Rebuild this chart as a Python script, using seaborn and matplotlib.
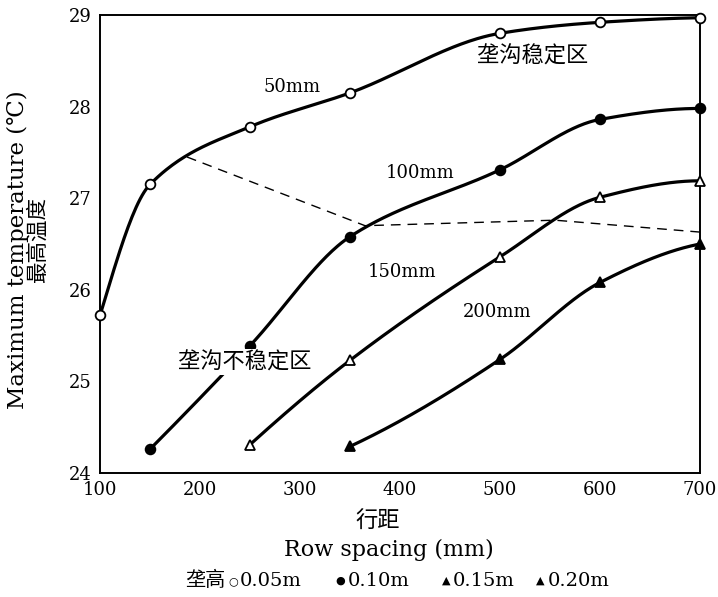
import numpy as np
import pandas as pd
import matplotlib
matplotlib.use("Agg")
import matplotlib.pyplot as plt
import seaborn as sns

# ---- data ----
x50 = [100, 150, 250, 350, 500, 600, 700]
y50 = [25.72, 27.15, 27.78, 28.15, 28.80, 28.92, 28.97]
x100 = [150, 250, 350, 500, 600, 700]
y100 = [24.26, 25.39, 26.58, 27.31, 27.86, 27.98]
x150 = [250, 350, 500, 600, 700]
y150 = [24.31, 25.23, 26.36, 27.01, 27.19]
x200 = [350, 500, 600, 700]
y200 = [24.29, 25.24, 26.08, 26.50]
# boundary (dashed) between stable / unstable ridge-furrow zones
xb = [187, 365, 460, 555, 700]
yb = [27.45, 26.70, 26.73, 26.76, 26.63]
xticks = [100, 200, 300, 400, 500, 600, 700]
yticks = [24, 25, 26, 27, 28, 29]
legend_title = "垄高"
legend_symbols = ["○", "●", "▲", "▲"]
legend_labels = ["0.05m", "0.10m", "0.15m", "0.20m"]


def pchip(x, y, xs):
    x = np.asarray(x, float); y = np.asarray(y, float)
    h = np.diff(x); d = np.diff(y) / h
    n = len(x)
    m = np.zeros(n)
    for k in range(1, n - 1):
        if d[k - 1] * d[k] > 0:
            w1 = 2 * h[k] + h[k - 1]; w2 = h[k] + 2 * h[k - 1]
            m[k] = (w1 + w2) / (w1 / d[k - 1] + w2 / d[k])
    def endslope(h0, h1, d0, d1):
        s = ((2 * h0 + h1) * d0 - h0 * d1) / (h0 + h1)
        if np.sign(s) != np.sign(d0):
            s = 0
        elif np.sign(d0) != np.sign(d1) and abs(s) > abs(3 * d0):
            s = 3 * d0
        return s
    if n > 2:
        m[0] = endslope(h[0], h[1], d[0], d[1])
        m[-1] = endslope(h[-1], h[-2], d[-1], d[-2])
    else:
        m[:] = d[0]
    idx = np.clip(np.searchsorted(x, xs) - 1, 0, n - 2)
    t = (xs - x[idx]) / h[idx]
    h00 = 2 * t**3 - 3 * t**2 + 1; h10 = t**3 - 2 * t**2 + t
    h01 = -2 * t**3 + 3 * t**2; h11 = t**3 - t**2
    return h00 * y[idx] + h10 * h[idx] * m[idx] + h01 * y[idx + 1] + h11 * h[idx] * m[idx + 1]


sns.set_style("white")
serif = ["DejaVu Serif", "DejaVu Sans", "Noto Sans CJK SC"]
cjk = ["Noto Sans CJK SC", "DejaVu Sans"]
plt.rcParams["font.family"] = serif
plt.rcParams["text.color"] = "black"
plt.rcParams["xtick.color"] = "black"
plt.rcParams["ytick.color"] = "black"
plt.rcParams["xtick.labelcolor"] = "black"
plt.rcParams["ytick.labelcolor"] = "black"

fig = plt.figure(figsize=(7.18, 5.97), dpi=100)
ax = fig.add_axes([100 / 718, 1 - 473 / 597, 600 / 718, 458 / 597])

series = [(x50, y50, "o", "white"), (x100, y100, "o", "black"),
          (x150, y150, "^", "white"), (x200, y200, "^", "black")]
for xs_, ys_, mk, fc in series:
    xx = np.linspace(xs_[0], xs_[-1], 300)
    df = pd.DataFrame({"x": xx, "y": pchip(xs_, ys_, xx)})
    sns.lineplot(data=df, x="x", y="y", ax=ax, color="black", lw=2.3,
                 sort=False, zorder=2)
    ax.plot(xs_, ys_, ls="none", marker=mk, ms=7 if mk == "o" else 6.5,
            mfc=fc, mec="black", mew=1.3, zorder=4, clip_on=False)

ax.plot(xb, yb, color="black", lw=1.0, ls=(0, (7, 5)), zorder=1)

ax.text(292, 28.21, "50mm", fontsize=13, ha="center", va="center")
ax.text(420, 27.28, "100mm", fontsize=13, ha="center", va="center")
ax.text(402, 26.19, "150mm", fontsize=13, ha="center", va="center")
ax.text(497, 25.76, "200mm", fontsize=13, ha="center", va="center")
ax.text(533, 28.55, "垄沟稳定区", fontsize=16, family=cjk,
        ha="center", va="center")
ax.text(245, 25.21, "垄沟不稳定区", fontsize=16, family=cjk,
        ha="center", va="center", zorder=5,
        bbox=dict(facecolor="white", edgecolor="none", pad=1))

ax.set_xlim(100, 700)
ax.set_ylim(24, 29)
ax.set_xticks(xticks)
ax.set_yticks(yticks)
ax.set_xticklabels([str(v) for v in xticks], fontsize=13)
ax.set_yticklabels([str(v) for v in yticks], fontsize=13)
ax.tick_params(direction="in", length=5, width=1.2, pad=6, colors="black")
ax.set_xlabel(""); ax.set_ylabel("")
for s in ax.spines.values():
    s.set_visible(True)
    s.set_color("black")
    s.set_linewidth(1.4)

fig.text(18 / 718, 1 - 250 / 597, "Maximum temperature (℃)", rotation=90,
         fontsize=16.5, ha="center", va="center")
fig.text(38 / 718, 1 - 240 / 597, "最高温度", rotation=90, family=cjk,
         fontsize=15.5, ha="center", va="center")
fig.text(378 / 718, 1 - 521 / 597, "行距", family=cjk, fontsize=16,
         ha="center", va="center")
fig.text(389 / 718, 1 - 550 / 597, "Row spacing (mm)", fontsize=16,
         ha="center", va="center")

ly = 1 - 581 / 597
fig.text(205 / 718, ly, legend_title, family=cjk, fontsize=14.5,
         ha="center", va="center")
for sx, lx, sym, lab in zip([233, 340, 446, 540], [240, 348, 453, 548],
                            legend_symbols, legend_labels):
    fig.text(sx / 718, ly, sym, family=["DejaVu Sans"], fontsize=8,
             ha="center", va="center")
    fig.text(lx / 718, ly, lab, fontsize=14, ha="left", va="center")

fig.savefig("out.png", dpi=100)
